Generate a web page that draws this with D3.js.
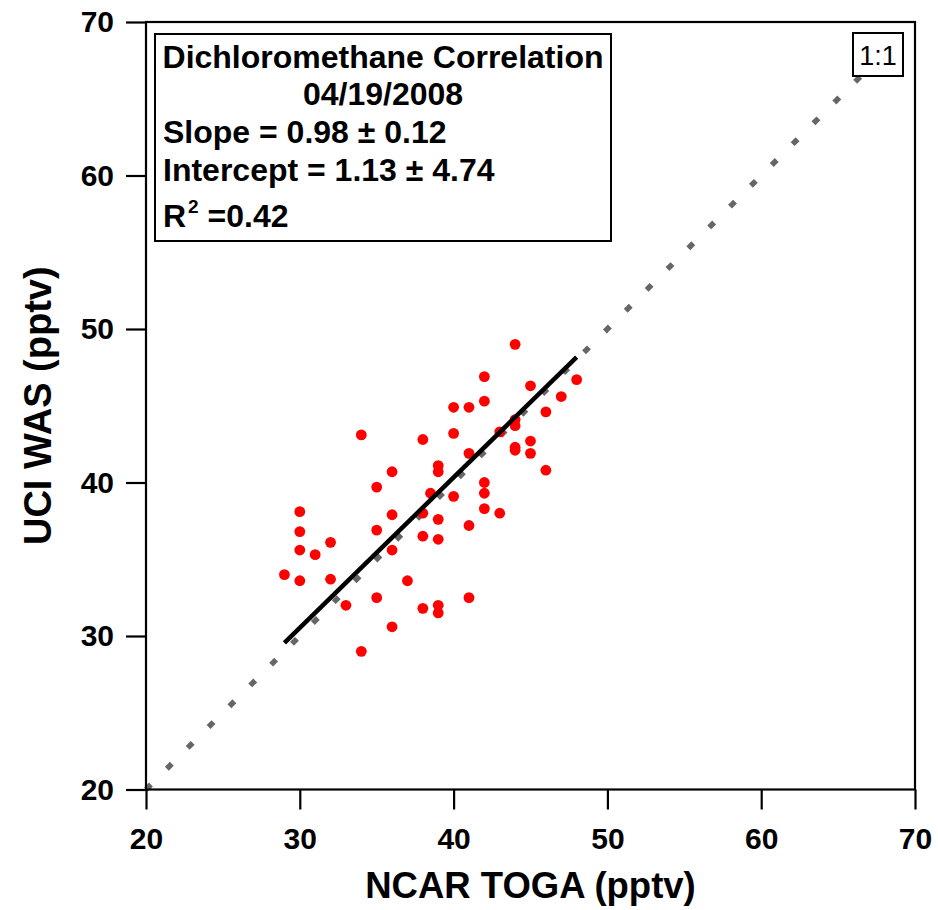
<!DOCTYPE html>
<html>
<head>
<meta charset="utf-8">
<script src="https://cdn.jsdelivr.net/npm/d3@7"></script>
<style>
  html, body { margin: 0; padding: 0; background: #fff; }
  svg { display: block; font-family: "Liberation Sans", Arial, sans-serif; }
</style>
</head>
<body>
<svg id="chart" width="938" height="910"></svg>
<script>
// ---- data ----
const ncarToga = [44, 42, 45, 48, 47, 42, 40, 41, 46, 44, 44, 43, 40, 34, 38, 45, 44, 44, 45, 41,
                  39, 39, 36, 46, 35, 42, 42, 38.5, 40, 30, 42, 43, 36, 38, 39, 41, 30, 35, 38, 39,
                  32, 30, 36, 31, 29, 30, 32, 37, 35, 41, 33, 38, 39, 39, 36, 34];
const uciWas   = [49.0, 46.9, 46.3, 46.7, 45.6, 45.3, 44.9, 44.9, 44.6, 44.1, 43.7, 43.3, 43.2, 43.1, 42.8, 42.7, 42.3, 42.1, 41.9, 41.9,
                  41.1, 40.7, 40.7, 40.8, 39.7, 40.0, 39.3, 39.3, 39.1, 38.1, 38.3, 38.0, 37.9, 38.0, 37.6, 37.2, 36.8, 36.9, 36.5, 36.3,
                  36.1, 35.6, 35.6, 35.3, 34.0, 33.6, 33.7, 33.6, 32.5, 32.5, 32.0, 31.8, 32.0, 31.5, 30.6, 29.0];
const xTicks = [20, 30, 40, 50, 60, 70];
const yTicks = [20, 30, 40, 50, 60, 70];
const fitSlope = 0.98, fitIntercept = 1.13;
const fitRange = [29, 48];
const oneToOneRange = [20, 67];
const statsLines = ["Dichloromethane Correlation", "04/19/2008", "Slope = 0.98 \u00B1 0.12", "Intercept = 1.13 \u00B1 4.74"];
const r2Text = "0.42";

// ---- layout ----
const svg = d3.select("#chart");
const x = d3.scaleLinear().domain([20, 70]).range([146, 915]);
const y = d3.scaleLinear().domain([20, 70]).range([789.5, 22]);

// 1:1 dotted line
svg.append("line")
  .attr("x1", x(oneToOneRange[0])).attr("y1", y(oneToOneRange[0]))
  .attr("x2", x(oneToOneRange[1])).attr("y2", y(oneToOneRange[1]))
  .attr("stroke", "#666").attr("stroke-width", 5.5)
  .attr("stroke-dasharray", "7,22.47");

// points
const pts = ncarToga.map((v, i) => [v, uciWas[i]]);
svg.append("g").selectAll("circle").data(pts).join("circle")
  .attr("cx", d => x(d[0])).attr("cy", d => y(d[1]))
  .attr("r", 5.4).attr("fill", "#ff0000");

// fit line
svg.append("line")
  .attr("x1", x(fitRange[0])).attr("y1", y(fitSlope * fitRange[0] + fitIntercept))
  .attr("x2", x(fitRange[1])).attr("y2", y(fitSlope * fitRange[1] + fitIntercept))
  .attr("stroke", "#000").attr("stroke-width", 4.5);

// frame
svg.append("rect")
  .attr("x", x(20)).attr("y", y(70))
  .attr("width", x(70) - x(20)).attr("height", y(20) - y(70))
  .attr("fill", "none").attr("stroke", "#000").attr("stroke-width", 2.2);

// axes
const xAxis = svg.append("g").attr("transform", `translate(0,${y(20)})`)
  .call(d3.axisBottom(x).tickValues(xTicks).tickSize(20).tickPadding(18).tickFormat(d3.format("d")));
const yAxis = svg.append("g").attr("transform", `translate(${x(20)},0)`)
  .call(d3.axisLeft(y).tickValues(yTicks).tickSize(20).tickPadding(12).tickFormat(d3.format("d")));
[xAxis, yAxis].forEach(g => {
  g.select(".domain").remove();
  g.selectAll(".tick line").attr("stroke", "#000").attr("stroke-width", 2.2);
  g.selectAll(".tick text").attr("fill", "#000")
    .style("font-family", '"Liberation Sans", Arial, sans-serif')
    .style("font-size", "30px").style("font-weight", "bold");
});

// axis titles
svg.append("text").attr("x", (x(20) + x(70)) / 2).attr("y", 898)
  .attr("text-anchor", "middle").style("font-size", "36.5px").style("font-weight", "bold")
  .text("NCAR TOGA (pptv)");
svg.append("text")
  .attr("transform", `translate(51,${(y(20) + y(70)) / 2}) rotate(-90)`)
  .attr("text-anchor", "middle").style("font-size", "38px").style("font-weight", "bold")
  .text("UCI WAS (pptv)");

// stats box
svg.append("rect").attr("x", 155).attr("y", 34).attr("width", 456).attr("height", 207)
  .attr("fill", "#fff").attr("stroke", "#000").attr("stroke-width", 2);
const tb = svg.append("g").style("font-size", "32px").style("font-weight", "bold");
tb.append("text").attr("x", 383).attr("y", 68).attr("text-anchor", "middle").text(statsLines[0]);
tb.append("text").attr("x", 383).attr("y", 105).attr("text-anchor", "middle").text(statsLines[1]);
tb.append("text").attr("x", 163).attr("y", 143).text(statsLines[2]);
tb.append("text").attr("x", 163).attr("y", 181).text(statsLines[3]);
const r2 = tb.append("text").attr("x", 163).attr("y", 227);
r2.append("tspan").text("R");
r2.append("tspan").attr("dx", 2).attr("dy", -14).style("font-size", "19px").text("2");
r2.append("tspan").attr("dy", 14).text(" =" + r2Text);

// 1:1 label
svg.append("rect").attr("x", 853).attr("y", 33).attr("width", 50).attr("height", 43)
  .attr("fill", "#fff").attr("stroke", "#000").attr("stroke-width", 2);
svg.append("text").attr("x", 878).attr("y", 65).attr("text-anchor", "middle")
  .style("font-size", "27px").text("1:1");
</script>
</body>
</html>
